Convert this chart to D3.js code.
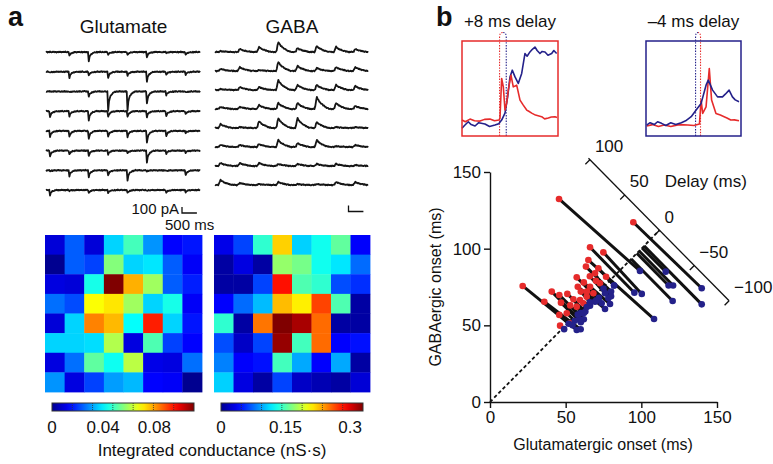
<!DOCTYPE html>
<html><head><meta charset="utf-8">
<script src="https://cdn.jsdelivr.net/npm/d3@7"></script>
<style>
body{margin:0;background:#fff}
svg{display:block}
text{font-family:"Liberation Sans",Arial,Helvetica,sans-serif;fill:#111}
</style></head>
<body><svg id="c" width="773" height="464"></svg>
<script>
// ================= DATA =================
const gridCols = [1,2,3,4,5,6,7,8];
const gridRows = [1,2,3,4,5,6,7,8];

// integrated conductance maps (nS·s)
const gluMap = [
 [0.009,0.024,0.009,0.037,0.049,0.030,0.014,0.016],
 [0.000,0.024,0.021,0.056,0.037,0.039,0.024,0.013],
 [0.010,0.009,0.044,0.111,0.078,0.059,0.024,0.017],
 [0.026,0.022,0.069,0.072,0.059,0.037,0.044,0.013],
 [0.009,0.037,0.083,0.077,0.042,0.094,0.037,0.016],
 [0.037,0.037,0.038,0.061,0.010,0.050,0.021,0.014],
 [0.010,0.026,0.052,0.043,0.062,0.011,0.010,0.026],
 [0.030,0.010,0.021,0.031,0.034,0.014,0.013,0.000]
];
const gabaMap = [
 [0.033,0.063,0.139,0.221,0.109,0.129,0.155,0.040],
 [0.007,0.030,0.007,0.172,0.162,0.129,0.116,0.076],
 [0.007,0.007,0.063,0.284,0.149,0.139,0.066,0.056],
 [0.041,0.076,0.102,0.228,0.211,0.267,0.149,0.007],
 [0.139,0.007,0.251,0.330,0.317,0.254,0.007,0.007],
 [0.066,0.020,0.063,0.323,0.145,0.254,0.041,0.046],
 [0.083,0.040,0.046,0.145,0.096,0.041,0.096,0.007],
 [0.109,0.030,0.007,0.063,0.020,0.013,0.007,0.026]
];
const gluMax = 0.111, gabaMax = 0.33;
const gluTicks = [0, 0.04, 0.08];
const gabaTicks = [0, 0.15, 0.3];

// peak currents of recorded traces (pA)
const gluPeak = [
 [0,65,150,50,50,85,15,50],
 [15,100,65,100,65,165,50,50],
 [0,15,85,315,315,200,65,15],
 [100,85,150,100,100,100,85,50],
 [100,100,135,100,100,200,85,35],
 [100,65,85,65,50,200,50,35],
 [15,100,115,85,165,15,15,85],
 [85,15,50,50,50,15,50,35]
];
const gabaPeak = [
 [15,50,85,165,65,100,85,50],
 [35,65,15,150,85,50,65,65],
 [15,50,50,165,85,85,85,65],
 [35,35,65,100,100,200,100,50],
 [65,15,115,165,165,100,15,15],
 [35,35,50,115,65,115,15,35],
 [50,50,50,35,35,35,35,15],
 [85,35,15,50,15,15,50,50]
];
// response waveform shapes (normalised) and baseline noise (pA)
const gluKernel  = [0,0,0,0,0,1,0.55,0.35,0.25,0.18,0.12,0.08,0.05,0.03,0.02,0,0,0,0,0,0,0,0,0];
const gabaKernel = [0,0,0,0,0,0.2,0.7,1,0.85,0.72,0.62,0.55,0.48,0.42,0.36,0.3,0.25,0.2,0.16,0.12,0.08,0.05,0.02,0];
const noiseKernel = [7,-5,8,-3,5,-8,3,7,-5,2,-7,5,-3,8,-2,5,-7,3,-5,7,-3,2,-5,3];
const sweepMs = 650;

// inset traces: time (ms), normalised current
const insL_redT = [0,4,9.6,15,21.6,27,33.5,39,44.3,45.5,47.5,49.5,51.5,53.5,55.4,58.7,61.4,65.5,69.5,73.4,77.5,80,83.5,88,95.4,99,103.4,107,111.4,113.8];
const insL_redA = [.168,.15,.178,.16,.157,.175,.178,.16,.168,.189,.605,.517,.273,.346,.483,.640,.517,.535,.378,.325,.273,.26,.241,.22,.203,.18,.189,.2,.203,.194];
const insL_bluT = [0,3,7.5,11,15.6,20,27.5,33,39.5,44,47.5,51.5,54.7,57.5,60.2,63.5,67.4,71.5,75.4,78,81.4,84,87.4,90,93.4,96,99.4,103,107.4,110,113.4];
const insL_bluA = [.081,.11,.150,.12,.105,.14,.126,.1,.115,.13,.168,.241,.412,.622,.693,.622,.553,.658,.868,.84,.885,.91,.937,.9,.868,.89,.885,.85,.868,.9,.868];
const insR_bluT = [0.8,5,10,14,18.8,24,30,36,42.8,48,54.7,60.7,66.7,72.7,75.4,80.6,86.6,92.6,96,100.6,104.6,108,112.6];
const insR_bluA = [.115,.14,.12,.15,.133,.11,.14,.12,.140,.16,.203,.273,.343,.535,.588,.483,.412,.412,.44,.483,.412,.38,.360];
const insR_redT = [0.8,8,15,22,30,40,50.7,58,64.7,66.7,68.6,72.7,76.6,79.4,84.7,90,94.6,98,102.6,107,112.6];
const insR_redA = [.105,.12,.1,.115,.1,.12,.115,.11,.126,.378,.238,.307,.710,.378,.238,.22,.203,.19,.168,.17,.161];
const insL_onset = {red:45, blue:53};
const insR_onset = {red:66, blue:60};
const insTitles = ["+8 ms delay", "\u20134 ms delay"];

// scatter: glutamatergic / GABAergic onsets (ms) – red and blue ends of each line
const redGlu  = [45.6,94.7,66.1,74.9,65,100.5,101.8,93.3,21.6,35.9,40.8,45.8,46.9,45.8,46.3,50.7,52.9,58,51.1,57.3,63.4,69.4,71.6,76.7,59.5,63.9,68.3,66.1,61.7,57.3,55.1,72.7,62,66,70,60,53,64,97,98.5];
const redGaba = [132.4,117.2,100.9,97.6,92.6,100.5,101.8,93.3,75.7,65.4,72,69.8,64.8,56.8,49.8,57.9,51.3,75.2,70.5,81.3,88.3,84,87.2,81.7,66.5,68.7,70.9,75.2,64.4,62.2,67,77.4,78,82,79,72,63,72,97,98.5];
const blueGlu  = [99.1,139.9,95.4,100.3,108.4,116.1,139.9,120.7,57.3,59.9,59,62,60,52,49,56,54.5,76,63,71.6,80,78.2,82,82,66.1,69.4,73.8,79.3,64,60,62,80,72,76,75,66,58,70,118,121];
const blueGaba = [85.5,74.2,71.3,70.5,54.1,85,63.7,65.9,47,47.4,53.9,54,52,51,47.5,53,50,60.7,59,67,72,67.6,76,76,62.8,65.4,64.4,63.9,62,58,58,69,68,71,74,65,57,66,76,76];
const scatterTicks = [0,50,100,150];
const delayTicks = [100,50,0,-50,-100];
const delayZero = 112;   // onset (ms) where the delay axis crosses the diagonal

// ================= DRAW =================
const svg = d3.select("#c");
const RED = "#e62b2b", BLUE = "#24218a";
const jet = d3.scaleLinear().domain([0,0.125,0.375,0.625,0.875,1])
  .range(["#000090","#0000ff","#00ffff","#ffff00","#ff0000","#800000"]);

// panel letters & titles
svg.append("text").attr("x",8).attr("y",26).attr("font-size",27).attr("font-weight","bold").text("a");
svg.append("text").attr("x",436).attr("y",26).attr("font-size",27).attr("font-weight","bold").text("b");
svg.append("text").attr("x",123.5).attr("y",33).attr("text-anchor","middle").attr("font-size",19).text("Glutamate");
svg.append("text").attr("x",292).attr("y",33).attr("text-anchor","middle").attr("font-size",19).text("GABA");

// ---- traces ----
const ampPx = d3.scaleLinear().domain([0,100]).range([0,6]);
function traces(peaks, kernel, dir, x0, x1, y0, y1){
  const xb = d3.scaleBand().domain(gridCols).range([x0,x1]);
  const yp = d3.scalePoint().domain(gridRows).range([y0,y1]);
  const bw = xb.bandwidth();
  const n = kernel.length;
  const line = d3.line().x(d=>d[0]).y(d=>d[1]);
  peaks.forEach((row,i)=>{
    const pts = [];
    row.forEach((pk,j)=>{
      kernel.forEach((kv,k)=>{
        const nz = noiseKernel[(k + i*3 + j*5) % noiseKernel.length];
        const v = pk*kv + nz;
        pts.push([xb(gridCols[j]) + k*bw/n, yp(gridRows[i]) + dir*ampPx(v)]);
      });
    });
    svg.append("path").attr("d",line(pts)).attr("fill","none")
      .attr("stroke","#151515").attr("stroke-width",1.8).attr("stroke-linejoin","round");
  });
  return {xb, bw};
}
const gT = traces(gluPeak, gluKernel, 1, 46, 201, 52, 190);
const aT = traces(gabaPeak, gabaKernel, -1, 215, 369, 52, 185);

// scale bars
const msPx = d3.scaleLinear().domain([0,sweepMs]).range([0,gT.bw]);
function scaleBar(x, y){
  svg.append("path").attr("d",`M${x},${y-ampPx(100)}V${y}H${x+msPx(500)}`)
    .attr("fill","none").attr("stroke","#111").attr("stroke-width",1.3);
}
scaleBar(182, 213);
scaleBar(348.5, 211.5);
svg.append("text").attr("x",179).attr("y",214).attr("text-anchor","end").attr("font-size",15).text("100 pA");
svg.append("text").attr("x",165).attr("y",230).attr("font-size",15).text("500 ms");

// ---- heatmaps ----
function heat(map, max, x0, x1, y0, y1){
  const xb = d3.scaleBand().domain(gridCols).range([x0,x1]);
  const yb = d3.scaleBand().domain(gridRows).range([y0,y1]);
  const cells = map.flatMap((row,i)=>row.map((v,j)=>({r:gridRows[i],c:gridCols[j],v})));
  svg.append("g").selectAll("rect").data(cells).join("rect")
    .attr("x",d=>xb(d.c)).attr("y",d=>yb(d.r))
    .attr("width",xb.bandwidth()+0.4).attr("height",yb.bandwidth()+0.4)
    .attr("fill",d=>jet(d.v/max));
}
heat(gluMap, gluMax, 45, 202, 235, 392);
heat(gabaMap, gabaMax, 214, 370, 235, 392);

// ---- colour bars ----
const defs = svg.append("defs");
const grad = defs.append("linearGradient").attr("id","jetg");
d3.range(0,1.0001,0.05).forEach(t=>grad.append("stop").attr("offset",t).attr("stop-color",jet(t)));
function cbar(x0, x1, max, ticks){
  const s = d3.scaleLinear().domain([0,max]).range([x0,x1]);
  svg.append("rect").attr("x",x0).attr("y",403).attr("width",x1-x0).attr("height",8)
    .attr("fill","url(#jetg)").attr("stroke","#333").attr("stroke-width",1);
  d3.range(1,7).forEach(k=>{
    const xx = x0 + (x1-x0)*k/7;
    svg.append("line").attr("x1",xx).attr("x2",xx).attr("y1",403).attr("y2",411)
      .attr("stroke","#333").attr("stroke-width",0.8).attr("stroke-dasharray","1,1");
  });
  ticks.forEach(t=>svg.append("text").attr("x",s(t)).attr("y",433).attr("text-anchor","middle")
    .attr("font-size",17).text(String(t)));
}
cbar(52, 194, gluMax, gluTicks);
cbar(221, 363, gabaMax, gabaTicks);
svg.append("text").attr("x",212).attr("y",456).attr("text-anchor","middle").attr("font-size",17)
  .text("Integrated conductance (nS\u00b7s)");

// ---- insets ----
function inset(x0, x1, color, title, rT, rA, bT, bA, onset){
  const tx = d3.scaleLinear().domain([0,115]).range([x0,x1]);
  const ty = d3.scaleLinear().domain([0,1]).range([136,41]);
  const ln = d3.line().x(d=>tx(d[0])).y(d=>ty(d[1]));
  svg.append("text").attr("x",(x0+x1)/2).attr("y",27).attr("text-anchor","middle").attr("font-size",17).text(title);
  const onsetLine = (t, col)=>{
    const x = tx(t), xm = (tx(onset.red)+tx(onset.blue))/2;
    svg.append("path").attr("d",`M${x},136V37Q${x},32.5 ${xm},32.5`).attr("fill","none")
      .attr("stroke",col).attr("stroke-width",1.1).attr("stroke-dasharray","1.4,1.4");
  };
  onsetLine(onset.red, RED); onsetLine(onset.blue, BLUE);
  const drawT = (T,A,col)=>svg.append("path").attr("d",ln(T.map((t,i)=>[t,A[i]])))
      .attr("fill","none").attr("stroke",col).attr("stroke-width",1.6).attr("stroke-linejoin","round");
  if(color===RED){ drawT(bT,bA,BLUE); drawT(rT,rA,RED); } else { drawT(rT,rA,RED); drawT(bT,bA,BLUE); }
  svg.append("rect").attr("x",x0).attr("y",41).attr("width",x1-x0).attr("height",95)
    .attr("fill","none").attr("stroke",color).attr("stroke-width",1.5);
}
inset(462, 558, RED, insTitles[0], insL_redT, insL_redA, insL_bluT, insL_bluA, insL_onset);
inset(646, 741, BLUE, insTitles[1], insR_redT, insR_redA, insR_bluT, insR_bluA, insR_onset);

// ---- scatter ----
const xS = d3.scaleLinear().domain([0,150]).range([490,717]);
const yS = d3.scaleLinear().domain([0,150]).range([402,172]);
const gx = svg.append("g").attr("transform","translate(0,402)")
  .call(d3.axisBottom(xS).tickValues(scatterTicks).tickSize(6).tickSizeOuter(0).tickPadding(3));
const gy = svg.append("g").attr("transform","translate(490,0)")
  .call(d3.axisLeft(yS).tickValues(scatterTicks).tickSize(6).tickSizeOuter(0).tickPadding(3));
[gx,gy].forEach(g=>{
  g.selectAll("path,line").attr("stroke","#111").attr("stroke-width",1.4);
  g.selectAll("text").attr("font-size",17).attr("font-family",'"Liberation Sans",Arial,sans-serif').attr("fill","#111");
});
svg.append("text").attr("x",603).attr("y",450).attr("text-anchor","middle").attr("font-size",16).text("Glutamatergic onset (ms)");
svg.append("text").attr("transform","translate(441,287) rotate(-90)").attr("text-anchor","middle").attr("font-size",16).text("GABAergic onset (ms)");

// lines red -> blue
const pairs = redGlu.map((v,i)=>({rx:v, ry:redGaba[i], bx:blueGlu[i], by:blueGaba[i]}));
svg.append("g").selectAll("line").data(pairs).join("line")
  .attr("x1",d=>xS(d.rx)).attr("y1",d=>yS(d.ry)).attr("x2",d=>xS(d.bx)).attr("y2",d=>yS(d.by))
  .attr("stroke","#111").attr("stroke-width",3);

// diagonal (zero delay)
svg.append("line").attr("x1",xS(0)).attr("y1",yS(0)).attr("x2",xS(delayZero)).attr("y2",yS(delayZero))
  .attr("stroke","#111").attr("stroke-width",1.8).attr("stroke-dasharray","3.5,2.5");

// dots
svg.append("g").selectAll("circle").data(pairs.filter(d=>Math.abs(d.ry-d.rx)>1)).join("circle")
  .attr("cx",d=>xS(d.rx)).attr("cy",d=>yS(d.ry)).attr("r",3.3).attr("fill",RED);
svg.append("g").selectAll("circle").data(pairs).join("circle")
  .attr("cx",d=>xS(d.bx)).attr("cy",d=>yS(d.by)).attr("r",3.3).attr("fill",BLUE);

// delay axis (perpendicular to diagonal)
const dpos = d => [xS(delayZero - 0.46*d), yS(delayZero + 0.46*d)];
const dTop = dpos(102), dBot = dpos(-100);
svg.append("line").attr("x1",dTop[0]).attr("y1",dTop[1]).attr("x2",dBot[0]).attr("y2",dBot[1])
  .attr("stroke","#111").attr("stroke-width",1.3);
delayTicks.forEach(d=>{
  const p = dpos(d);
  svg.append("line").attr("x1",p[0]).attr("y1",p[1]).attr("x2",p[0]-4.5).attr("y2",p[1]+4.5)
    .attr("stroke","#111").attr("stroke-width",1.3);
  svg.append("text").attr("x",p[0]+5).attr("y",p[1]-12).attr("dominant-baseline","middle")
    .attr("font-size",17).text(d<0 ? "\u2212"+(-d) : String(d));
});
const p50 = dpos(50);
svg.append("text").attr("x",p50[0]+40).attr("y",p50[1]-12).attr("dominant-baseline","middle")
  .attr("font-size",17).text("Delay (ms)");
</script>
</body></html>
